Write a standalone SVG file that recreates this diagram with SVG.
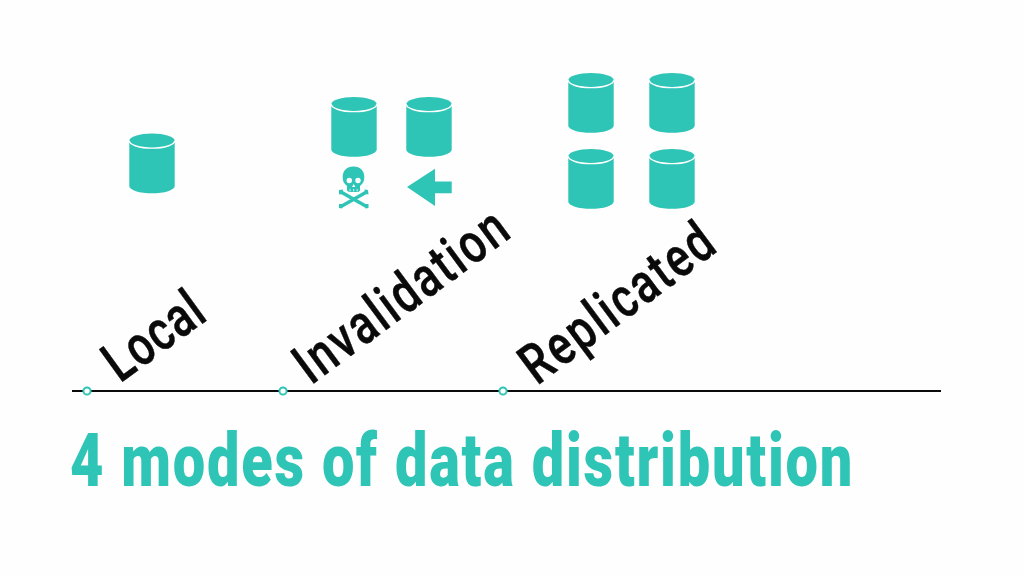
<svg xmlns="http://www.w3.org/2000/svg" width="1024" height="576" viewBox="0 0 1024 576">
<style>
.lbl{font-family:"Roboto","Liberation Sans",sans-serif;font-weight:500;font-size:56px;fill:#0a0a0a;stroke:#0a0a0a;stroke-width:.5}
.title{font-family:"Roboto","Liberation Sans",sans-serif;font-weight:900;font-size:74px;fill:#2ec4b6}
.body{fill:#2ec4b6}
.rim{fill:none;stroke:#fff;stroke-width:1.4}
.dot{fill:#fff;stroke:#2ec4b6;stroke-width:2}
</style>
<defs>
<g id="db">
<path class="body" d="M-22.700 -22.700A22.700 7.300 0 0 1 22.700 -22.700V22.500A22.700 7.300 0 0 1 -22.700 22.500Z"/>
<path class="rim" d="M-22.700 -22.700A22.700 7.300 0 0 0 22.700 -22.700"/>
</g>
</defs>
<rect width="1024" height="576" fill="#fefefe"/>
<g id="timeline">
<line x1="72" y1="391" x2="941" y2="391" stroke="#0a0a0a" stroke-width="2.200"/>
<circle class="dot" cx="87" cy="391" r="3.600"/>
<circle class="dot" cx="283" cy="391" r="3.600"/>
<circle class="dot" cx="503" cy="391" r="3.600"/>
</g>
<g id="local"><use href="#db" x="152" y="163.500"/></g>
<g id="invalidation">
<use href="#db" x="354" y="127"/>
<use href="#db" x="429" y="127"/>
</g>
<g id="replicated">
<use href="#db" x="591" y="103"/>
<use href="#db" x="672" y="103"/>
<use href="#db" x="591" y="179"/>
<use href="#db" x="672" y="179"/>
</g>
<g id="skull">
<path class="body" d="M353.500 166.500C346.500 166.500 342.700 171 342.700 177C342.700 180.500 343.500 182.500 345 184L347 186V190.500L349 192H358.500L360 190.500V186L362 184C363.500 182.500 364.300 180.500 364.300 177C364.300 171 360.500 166.500 353.500 166.500Z"/>
<circle cx="349.300" cy="180.500" r="2.700" fill="#fff"/>
<circle cx="358" cy="180.500" r="2.700" fill="#fff"/>
<path d="M353.700 184L352 187H355.400Z" fill="#fff"/>
<path d="M350 189V191.500M353.700 189V191.500M357.200 189V191.500" stroke="#fff" stroke-width=".8" fill="none"/>
<path d="M341 192L366.500 206.500M366.500 192L341 206.500" stroke="#2ec4b6" stroke-width="3.400" fill="none"/>
<path class="body" d="M339 190L343 189.500L342.500 194L339 194.500ZM368 190L364.500 189.500L365 194L368.500 194.500ZM339 204L343 204L342 208.500L339 208ZM368.500 204L364.500 204L365.500 208.500L368.500 208Z"/>
</g>
<polygon id="arrow" class="body" points="407,187 435,168.700 435,181.500 451.700,181.500 451.700,193.300 435,193.300 435,206"/>
<text id="lbl-local" class="lbl" transform="translate(120 383.500) rotate(-36) scale(.78 1)" textLength="141" lengthAdjust="spacing">Local</text>
<text id="lbl-invalidation" class="lbl" transform="translate(311 385.500) rotate(-36.500) scale(.78 1)" textLength="322" lengthAdjust="spacing">Invalidation</text>
<text id="lbl-replicated" class="lbl" transform="translate(537 386) rotate(-36.700) scale(.78 1)" textLength="291" lengthAdjust="spacing">Replicated</text>
<text id="title" class="title" transform="translate(70 486) scale(.78 1)" textLength="1003" lengthAdjust="spacing">4 modes of data distribution</text>
</svg>
